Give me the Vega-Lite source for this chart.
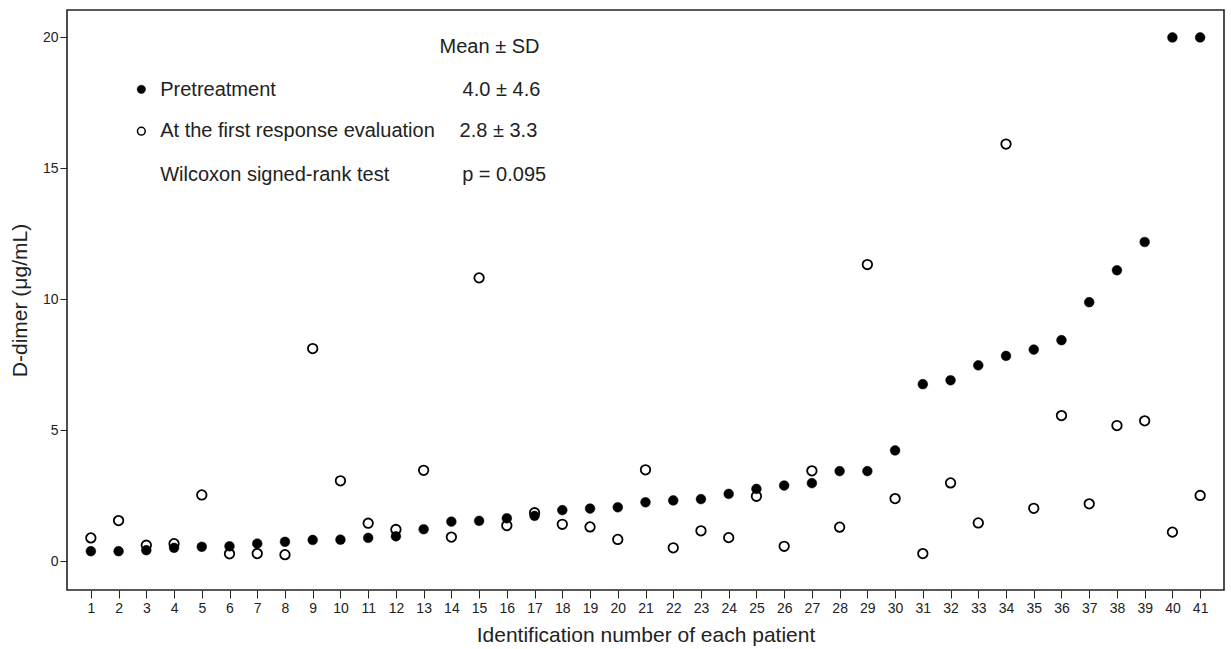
{
  "$schema": "https://vega.github.io/schema/vega-lite/v6.json",
  "width": 1157,
  "height": 580,
  "autosize": {"type": "none"},
  "padding": {"left": 67, "top": 10, "right": 7, "bottom": 59},
  "background": "white",
  "config": {
    "font": "Liberation Sans",
    "view": {"stroke": "#222222", "strokeWidth": 1.6},
    "axis": {
      "grid": false,
      "domain": false,
      "tickColor": "#222222",
      "labelColor": "#222222",
      "titleColor": "#222222",
      "titleFontWeight": "normal",
      "labelFont": "Liberation Sans",
      "titleFont": "Liberation Sans"
    }
  },
  "resolve": {"scale": {"x": "independent"}, "axis": {"x": "independent"}},
  "datasets": {
    "points": [
      {"id": 1, "value": 0.38, "series": "Pretreatment"}, {"id": 1, "value": 0.89, "series": "First"},
      {"id": 2, "value": 0.38, "series": "Pretreatment"}, {"id": 2, "value": 1.55, "series": "First"},
      {"id": 3, "value": 0.42, "series": "Pretreatment"}, {"id": 3, "value": 0.61, "series": "First"},
      {"id": 4, "value": 0.51, "series": "Pretreatment"}, {"id": 4, "value": 0.67, "series": "First"},
      {"id": 5, "value": 0.55, "series": "Pretreatment"}, {"id": 5, "value": 2.53, "series": "First"},
      {"id": 6, "value": 0.57, "series": "Pretreatment"}, {"id": 6, "value": 0.28, "series": "First"},
      {"id": 7, "value": 0.67, "series": "Pretreatment"}, {"id": 7, "value": 0.29, "series": "First"},
      {"id": 8, "value": 0.74, "series": "Pretreatment"}, {"id": 8, "value": 0.25, "series": "First"},
      {"id": 9, "value": 0.81, "series": "Pretreatment"}, {"id": 9, "value": 8.12, "series": "First"},
      {"id": 10, "value": 0.82, "series": "Pretreatment"}, {"id": 10, "value": 3.07, "series": "First"},
      {"id": 11, "value": 0.89, "series": "Pretreatment"}, {"id": 11, "value": 1.45, "series": "First"},
      {"id": 12, "value": 0.95, "series": "Pretreatment"}, {"id": 12, "value": 1.21, "series": "First"},
      {"id": 13, "value": 1.22, "series": "Pretreatment"}, {"id": 13, "value": 3.47, "series": "First"},
      {"id": 14, "value": 1.51, "series": "Pretreatment"}, {"id": 14, "value": 0.92, "series": "First"},
      {"id": 15, "value": 1.54, "series": "Pretreatment"}, {"id": 15, "value": 10.82, "series": "First"},
      {"id": 16, "value": 1.64, "series": "Pretreatment"}, {"id": 16, "value": 1.36, "series": "First"},
      {"id": 17, "value": 1.73, "series": "Pretreatment"}, {"id": 17, "value": 1.85, "series": "First"},
      {"id": 18, "value": 1.95, "series": "Pretreatment"}, {"id": 18, "value": 1.41, "series": "First"},
      {"id": 19, "value": 2.01, "series": "Pretreatment"}, {"id": 19, "value": 1.31, "series": "First"},
      {"id": 20, "value": 2.06, "series": "Pretreatment"}, {"id": 20, "value": 0.83, "series": "First"},
      {"id": 21, "value": 2.25, "series": "Pretreatment"}, {"id": 21, "value": 3.49, "series": "First"},
      {"id": 22, "value": 2.32, "series": "Pretreatment"}, {"id": 22, "value": 0.51, "series": "First"},
      {"id": 23, "value": 2.37, "series": "Pretreatment"}, {"id": 23, "value": 1.16, "series": "First"},
      {"id": 24, "value": 2.57, "series": "Pretreatment"}, {"id": 24, "value": 0.9, "series": "First"},
      {"id": 25, "value": 2.76, "series": "Pretreatment"}, {"id": 25, "value": 2.48, "series": "First"},
      {"id": 26, "value": 2.89, "series": "Pretreatment"}, {"id": 26, "value": 0.57, "series": "First"},
      {"id": 27, "value": 2.98, "series": "Pretreatment"}, {"id": 27, "value": 3.45, "series": "First"},
      {"id": 28, "value": 3.44, "series": "Pretreatment"}, {"id": 28, "value": 1.3, "series": "First"},
      {"id": 29, "value": 3.44, "series": "Pretreatment"}, {"id": 29, "value": 11.33, "series": "First"},
      {"id": 30, "value": 4.23, "series": "Pretreatment"}, {"id": 30, "value": 2.39, "series": "First"},
      {"id": 31, "value": 6.76, "series": "Pretreatment"}, {"id": 31, "value": 0.29, "series": "First"},
      {"id": 32, "value": 6.91, "series": "Pretreatment"}, {"id": 32, "value": 2.99, "series": "First"},
      {"id": 33, "value": 7.48, "series": "Pretreatment"}, {"id": 33, "value": 1.46, "series": "First"},
      {"id": 34, "value": 7.84, "series": "Pretreatment"}, {"id": 34, "value": 15.93, "series": "First"},
      {"id": 35, "value": 8.08, "series": "Pretreatment"}, {"id": 35, "value": 2.02, "series": "First"},
      {"id": 36, "value": 8.44, "series": "Pretreatment"}, {"id": 36, "value": 5.56, "series": "First"},
      {"id": 37, "value": 9.89, "series": "Pretreatment"}, {"id": 37, "value": 2.19, "series": "First"},
      {"id": 38, "value": 11.11, "series": "Pretreatment"}, {"id": 38, "value": 5.18, "series": "First"},
      {"id": 39, "value": 12.19, "series": "Pretreatment"}, {"id": 39, "value": 5.36, "series": "First"},
      {"id": 40, "value": 20.0, "series": "Pretreatment"}, {"id": 40, "value": 1.11, "series": "First"},
      {"id": 41, "value": 20.0, "series": "Pretreatment"}, {"id": 41, "value": 2.51, "series": "First"}
    ],
    "keys": [
      {"id": 2.78, "value": 18.02, "series": "Pretreatment"},
      {"id": 2.78, "value": 16.42, "series": "First"}
    ],
    "labels": [
      {"id": 3.46, "value": 17.98, "label": "Pretreatment"},
      {"id": 3.46, "value": 16.42, "label": "At the first response evaluation"},
      {"id": 3.46, "value": 14.74, "label": "Wilcoxon signed-rank test"}
    ],
    "stats": [
      {"id": 17.14, "value": 19.63, "label": "Mean ± SD"},
      {"id": 17.17, "value": 17.98, "label": "4.0 ± 4.6"},
      {"id": 17.06, "value": 16.42, "label": "2.8 ± 3.3"},
      {"id": 17.38, "value": 14.74, "label": "p = 0.095"}
    ]
  },
  "layer": [
    {
      "data": {"name": "points"},
      "transform": [{"filter": "datum.series === 'Pretreatment'"}],
      "mark": {"type": "point", "shape": "circle", "filled": true, "size": 95, "fill": "black", "stroke": "black", "strokeWidth": 0.5, "opacity": 1},
      "encoding": {
        "x": {
          "field": "id", "type": "ordinal",
          "scale": {"type": "point", "padding": 0.86},
          "axis": {
            "title": "Identification number of each patient",
            "labelAngle": 0,
            "labelOverlap": false,
            "tickSize": 8,
            "labelFontSize": 14,
            "labelPadding": 3,
            "titleFontSize": 21,
            "titlePadding": 9
          }
        },
        "y": {
          "field": "value", "type": "quantitative",
          "scale": {"domain": [-1.1, 21.05], "nice": false, "zero": false},
          "axis": {
            "title": "D-dimer (μg/mL)",
            "values": [0, 5, 10, 15, 20],
            "tickSize": 7,
            "labelFontSize": 14,
            "labelPadding": 2,
            "titleFontSize": 21,
            "titlePadding": 12
          }
        }
      }
    },
    {
      "data": {"name": "points"},
      "transform": [{"filter": "datum.series === 'First'"}],
      "mark": {"type": "point", "shape": "circle", "filled": false, "size": 90, "stroke": "black", "strokeWidth": 1.8, "opacity": 1},
      "encoding": {
        "x": {"field": "id", "type": "ordinal", "scale": {"type": "point", "padding": 0.86}, "axis": null},
        "y": {"field": "value", "type": "quantitative"}
      }
    },
    {
      "data": {"name": "keys"},
      "transform": [{"filter": "datum.series === 'Pretreatment'"}],
      "mark": {"type": "point", "shape": "circle", "filled": true, "size": 70, "fill": "black", "stroke": "black", "strokeWidth": 0.5, "opacity": 1},
      "encoding": {
        "x": {"field": "id", "type": "quantitative", "scale": {"domain": [0.098, 41.83], "nice": false, "zero": false}, "axis": null},
        "y": {"field": "value", "type": "quantitative"}
      }
    },
    {
      "data": {"name": "keys"},
      "transform": [{"filter": "datum.series === 'First'"}],
      "mark": {"type": "point", "shape": "circle", "filled": false, "size": 60, "stroke": "black", "strokeWidth": 1.5, "opacity": 1},
      "encoding": {
        "x": {"field": "id", "type": "quantitative", "scale": {"domain": [0.098, 41.83], "nice": false, "zero": false}, "axis": null},
        "y": {"field": "value", "type": "quantitative"}
      }
    },
    {
      "data": {"name": "labels"},
      "mark": {"type": "text", "align": "left", "baseline": "middle", "fontSize": 20, "color": "#222222", "font": "Liberation Sans"},
      "encoding": {
        "x": {"field": "id", "type": "quantitative", "scale": {"domain": [0.098, 41.83], "nice": false, "zero": false}, "axis": null},
        "y": {"field": "value", "type": "quantitative"},
        "text": {"field": "label"}
      }
    },
    {
      "data": {"name": "stats"},
      "mark": {"type": "text", "align": "right", "baseline": "middle", "fontSize": 20, "color": "#222222", "font": "Liberation Sans"},
      "encoding": {
        "x": {"field": "id", "type": "quantitative", "scale": {"domain": [0.098, 41.83], "nice": false, "zero": false}, "axis": null},
        "y": {"field": "value", "type": "quantitative"},
        "text": {"field": "label"}
      }
    }
  ]
}
